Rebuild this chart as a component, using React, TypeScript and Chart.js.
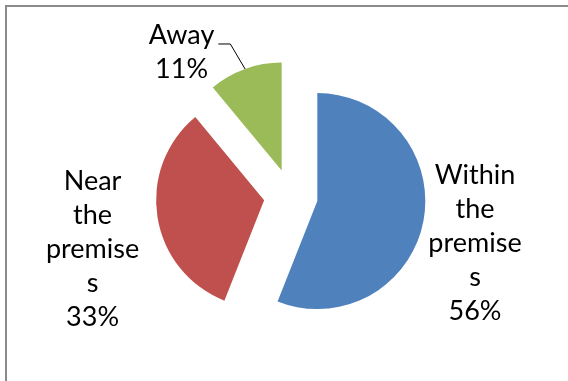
import React, { useEffect, useRef } from 'react';
import { Chart, registerables, ArcElement } from 'chart.js';

Chart.register(...registerables);

// ---- data ----
const CATEGORIES = ['Within the premises', 'Near the premises', 'Away'];
const LABEL_LINES = [
  ['Within', 'the', 'premise', 's'],
  ['Near', 'the', 'premise', 's'],
  ['Away'],
];
const VALUES = [56, 33, 11];
const COLORS = ['#4F81BD', '#C0504D', '#9BBB59'];

// ---- layout / style config ----
const EXPLODE = 27;
const RADIUS = 108;
const LABEL_FONT = '27px Lato';
const LINE_HEIGHT = 34;
const LABEL_NUDGE = [
  [51.6, 31],
  [-64.9, 40.9],
  [-63.5, -8],
];
const LEADER = [false, false, true];

class ExplodedArc extends ArcElement {
  static id = 'explodedArc';
  draw(ctx: CanvasRenderingContext2D) {
    const mid = ((this as any).startAngle + (this as any).endAngle) / 2;
    ctx.save();
    ctx.translate(Math.cos(mid) * EXPLODE, Math.sin(mid) * EXPLODE);
    super.draw(ctx);
    ctx.restore();
  }
}
Chart.register(ExplodedArc as any);
(Chart.defaults as any).datasets.pie.dataElementType = 'explodedArc';

const labelPlugin = {
  id: 'outsideLabels',
  afterDatasetsDraw(chart: any) {
    const ctx = chart.ctx as CanvasRenderingContext2D;
    const meta = chart.getDatasetMeta(0);
    const total = VALUES.reduce((a, b) => a + b, 0);
    ctx.save();
    ctx.font = LABEL_FONT;
    ctx.fillStyle = '#000000';
    ctx.textAlign = 'center';
    ctx.textBaseline = 'alphabetic';
    meta.data.forEach((arc: any, i: number) => {
      const { x, y, startAngle, endAngle, outerRadius } = arc.getProps(
        ['x', 'y', 'startAngle', 'endAngle', 'outerRadius'],
        true
      );
      const mid = (startAngle + endAngle) / 2;
      const ex = x + Math.cos(mid) * (outerRadius + EXPLODE);
      const ey = y + Math.sin(mid) * (outerRadius + EXPLODE);
      const lines = [...LABEL_LINES[i], `${Math.round((VALUES[i] / total) * 100)}%`];
      const cx = ex + LABEL_NUDGE[i][0];
      const midBase = ey + LABEL_NUDGE[i][1];
      const n = lines.length;
      lines.forEach((t, k) => {
        ctx.fillText(t, cx, midBase + (k - (n - 1) / 2) * LINE_HEIGHT);
      });
      if (LEADER[i]) {
        const firstBase = midBase - ((n - 1) / 2) * LINE_HEIGHT;
        const w = ctx.measureText(lines[0]).width;
        const sx = cx + w / 2 + 4;
        ctx.beginPath();
        ctx.strokeStyle = '#000000';
        ctx.lineWidth = 1;
        ctx.moveTo(sx, firstBase);
        ctx.lineTo(sx + 12, firstBase);
        ctx.lineTo(ex, ey);
        ctx.stroke();
      }
    });
    ctx.restore();
  },
};

export default function App() {
  const ref = useRef<HTMLCanvasElement>(null);
  useEffect(() => {
    if (!ref.current) return;
    const chart = new Chart(ref.current, {
      type: 'pie',
      data: {
        labels: CATEGORIES,
        datasets: [
          {
            data: VALUES,
            backgroundColor: COLORS,
            borderWidth: 0,
          },
        ],
      },
      options: {
        responsive: false,
        animation: false,
        radius: RADIUS,
        layout: { padding: { left: 13.6, top: 11, right: 0, bottom: 0 } },
        plugins: {
          legend: { display: false },
          tooltip: { enabled: false },
        },
      } as any,
      plugins: [labelPlugin],
    });
    return () => chart.destroy();
  }, []);
  return (
    <div
      style={{
        position: 'fixed',
        left: 0,
        top: 0,
        width: 568,
        height: 381,
        overflow: 'hidden',
        background: '#ffffff',
      }}
    >
      <div
        style={{
          position: 'absolute',
          left: 5,
          top: 5,
          width: 700,
          height: 500,
          borderLeft: '2px solid #8a8a8a',
          borderTop: '2px solid #8a8a8a',
        }}
      />
      <canvas
        ref={ref}
        width={568}
        height={381}
        style={{ position: 'absolute', left: 0, top: 0, width: 568, height: 381 }}
      />
    </div>
  );
}
